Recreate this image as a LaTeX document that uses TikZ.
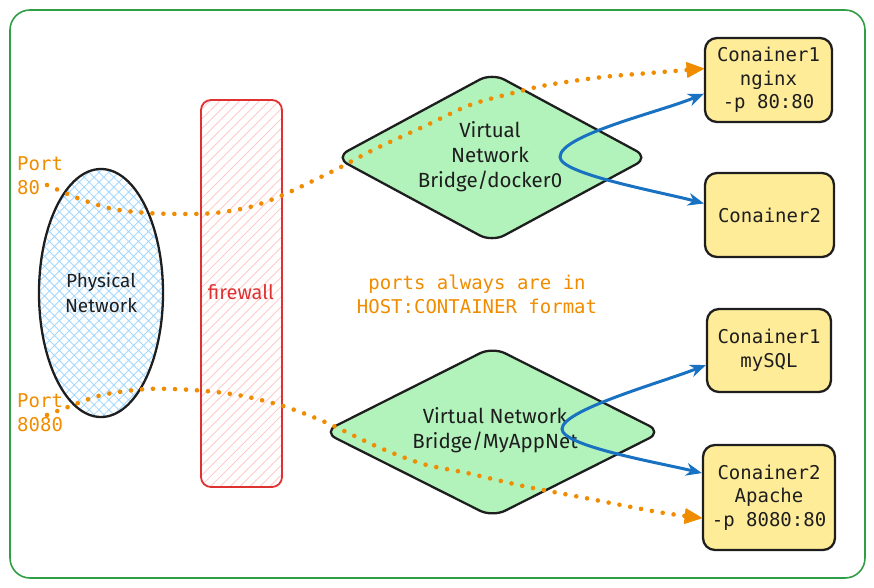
\documentclass[tikz,border=0pt]{standalone}
\usepackage{fontspec}
\setmainfont{Fira Sans}
\setmonofont{DejaVu Sans Mono}
\usetikzlibrary{shapes.geometric,arrows.meta,patterns.meta}
\definecolor{frameGreen}{HTML}{2F9E44}
\definecolor{diaGreen}{HTML}{B2F2BB}
\definecolor{boxYellow}{HTML}{FFEC99}
\definecolor{hatchBlue}{HTML}{A5D8FF}
\definecolor{hatchRed}{HTML}{FFC9C9}
\definecolor{wallRed}{HTML}{E03131}
\definecolor{portOrange}{HTML}{F08C00}
\definecolor{linkBlue}{HTML}{1971C2}
\definecolor{inkBlack}{HTML}{1E1E1E}
\begin{document}
\begin{tikzpicture}[x=1pt,y=-1pt,
  handtext/.style={font=\fontsize{20.5}{25}\selectfont, text=inkBlack, align=center},
  monotext/.style={font=\ttfamily\fontsize{19}{23.5}\selectfont, text=inkBlack, align=center},
  porttext/.style={font=\ttfamily\fontsize{19}{24}\selectfont, text=portOrange},
  contbox/.style={draw=inkBlack, line width=2.3pt, fill=boxYellow, rounded corners=12pt, inner sep=0pt, monotext},
  bridge/.style={diamond, draw=inkBlack, line width=2.3pt, fill=diaGreen, rounded corners=14pt, inner sep=0pt},
  orangedots/.style={draw=portOrange, line width=4.6pt, line cap=round, dash pattern=on 0pt off 11pt,
     -{Triangle[length=18pt,width=16pt,line width=1pt,round]}},
  bluearrow/.style={draw=linkBlue, line width=3pt,
     {Stealth[length=16pt,width=13pt,line width=1pt]}-{Stealth[length=16pt,width=13pt,line width=1pt]}}
]
\useasboundingbox (0,0) rectangle (874,588);
\draw[frameGreen, line width=1.6pt, rounded corners=20pt] (10,10) rectangle (865,578);

% physical network
\node[ellipse, draw=inkBlack, line width=2.3pt, minimum width=124pt, minimum height=248pt, inner sep=0pt,
  pattern={Hatch[angle=45,distance=7pt,line width=0.9pt]}, pattern color=hatchBlue] (phys) at (101,293) {};
\node[handtext, font=\fontsize{19}{25}\selectfont] (physlbl) at (101,292.5) {Physical\\Network};

% firewall
\node[draw=wallRed, line width=1.8pt, rounded corners=10pt, minimum width=81pt, minimum height=387pt, inner sep=0pt,
  pattern={Lines[angle=45,distance=7pt,line width=0.9pt]}, pattern color=hatchRed] (fw) at (241.5,293.5) {};
\node[font=\fontsize{20}{22}\selectfont, text=wallRed] (fwlbl) at (241,292) {firewall};

% bridges
\node[bridge, minimum width=314pt, minimum height=170pt] (br1) at (492,157.5) {};
\node[handtext] (br1lbl) at (490,157) {Virtual\\Network\\Bridge/docker0};
\node[bridge, minimum width=339pt, minimum height=171pt] (br2) at (492.5,432) {};
\node[handtext] (br2lbl) at (495,430.5) {Virtual Network\\Bridge/MyAppNet};

% containers
\node[contbox, minimum width=127pt, minimum height=84pt] (c1) at (768.5,80) {Conainer1\\nginx\\-p 80:80};
\node[contbox, minimum width=129pt, minimum height=84pt] (c2) at (769.5,215) {Conainer2};
\node[contbox, minimum width=124pt, minimum height=83pt] (c3) at (769,350.5) {Conainer1\\mySQL};
\node[contbox, minimum width=132pt, minimum height=105pt] (c4) at (769,497.5) {Conainer2\\Apache\\-p 8080:80};

% labels
\node[porttext, anchor=west, align=left, inner sep=0pt] (p80) at (17,176) {Port\\80};
\node[porttext, anchor=west, align=left, inner sep=0pt] (p8080) at (17,413) {Port\\8080};
\node[porttext, align=center, inner sep=0pt] (note) at (477,294) {ports always are in\\HOST:CONTAINER format};

\coordinate (p80s) at (47,185);
\coordinate (p8080s) at (47,415);

% orange port flows
\draw[orangedots] plot[smooth, tension=0.5] coordinates {(p80s) (80,199) (113,209) (148,213) (182,214) (215,213) (250,207) (283,195) (335,170) (373,150) (427,125) (470,105) (513,93) (547,85) (603,77) (650,73) (c1.170)};
\draw[orangedots] plot[smooth, tension=0.5] coordinates {(p8080s) (68,407) (102,395) (147,389) (193,390) (238,395) (283,406) (325,422) (378,447) (423,464) (467,473) (523,486) (580,497) (658,512) (c4.197)};

% blue bridge links
\draw[bluearrow] (c1.192) .. controls (660,112) and (560,135) .. (560,157) .. controls (560,174) and (661,192) .. (c2.170);
\draw[bluearrow] (c3.193) .. controls (660,383) and (562,410) .. (562,429) .. controls (562,446) and (660,463) .. (c4.160);
\end{tikzpicture}
\end{document}
